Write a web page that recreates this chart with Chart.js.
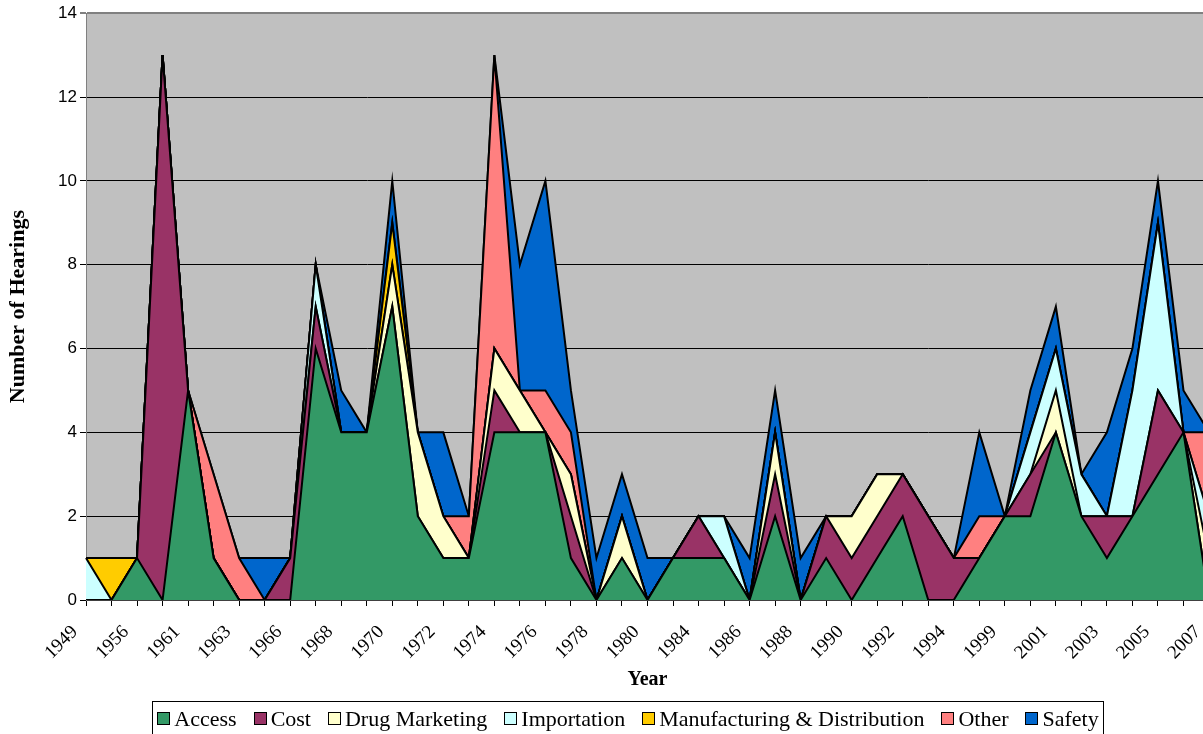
<!DOCTYPE html>
<html>
<head>
<meta charset="utf-8">
<script src="https://cdn.jsdelivr.net/npm/chart.js@4.4.1/dist/chart.umd.min.js"></script>
<style>
  html, body { margin: 0; padding: 0; background: #ffffff; overflow: hidden; }
  #wrap { position: relative; width: 1232px; height: 734px; }
  #c { display: block; }
</style>
</head>
<body>
<div id="wrap"><canvas id="c" width="1232" height="734" style="width:1232px;height:734px"></canvas></div>
<script>
// Years with at least one hearing (every other one is labelled on the axis)
const years = ['1949','1955','1956','1960','1961','1962','1963','1965','1966','1967',
               '1968','1969','1970','1971','1972','1973','1974','1975','1976','1977',
               '1978','1979','1980','1983','1984','1985','1986','1987','1988','1989',
               '1990','1991','1992','1993','1994','1998','1999','2000','2001','2002',
               '2003','2004','2005','2006','2007'];

// Number of hearings per topic and year
const access        = [0,0,1,0,5, 1,0,0,0,6, 4,4,7,2,1, 1,4,4,4,1, 0,1,0,1,1, 1,0,2,0,1, 0,1,2,0,0, 1,2,2,4,2, 1,2,3,4,0];
const cost          = [0,0,0,13,0, 0,0,0,1,1, 0,0,0,0,0, 0,1,0,0,1, 0,0,0,0,1, 0,0,1,0,1, 1,1,1,2,1, 0,0,1,0,0, 1,0,2,0,0];
const drugMarketing = [0,0,0,0,0, 0,0,0,0,0, 0,0,1,2,1, 0,1,1,0,1, 0,1,0,0,0, 0,0,1,0,0, 1,1,0,0,0, 0,0,0,1,0, 0,0,0,0,1];
const importation   = [1,0,0,0,0, 0,0,0,0,1, 0,0,0,0,0, 0,0,0,0,0, 0,0,0,0,0, 1,0,0,0,0, 0,0,0,0,0, 0,0,1,1,1, 0,3,4,0,1];
const manufacturing = [0,1,0,0,0, 0,0,0,0,0, 0,0,1,0,0, 0,0,0,0,0, 0,0,0,0,0, 0,0,0,0,0, 0,0,0,0,0, 0,0,0,0,0, 0,0,0,0,0];
const other         = [0,0,0,0,0, 2,1,0,0,0, 0,0,0,0,0, 1,7,0,1,1, 0,0,0,0,0, 0,0,0,0,0, 0,0,0,0,0, 1,0,0,0,0, 0,0,0,0,2];
const safety        = [0,0,0,0,0, 0,0,1,0,0, 1,0,1,0,2, 0,0,3,5,1, 1,1,1,0,0, 0,1,1,1,0, 0,0,0,0,0, 2,0,1,1,0, 2,1,1,1,0];

const yTicks = [0, 2, 4, 6, 8, 10, 12, 14];

const series = [
  { label: 'Access', data: access, color: '#339966' },
  { label: 'Cost', data: cost, color: '#993366' },
  { label: 'Drug Marketing', data: drugMarketing, color: '#FFFFCC' },
  { label: 'Importation', data: importation, color: '#CCFFFF' },
  { label: 'Manufacturing & Distribution', data: manufacturing, color: '#FFCC00' },
  { label: 'Other', data: other, color: '#FF8080' },
  { label: 'Safety', data: safety, color: '#0066CC' }
];

const SERIF = '"Liberation Serif", "Times New Roman", serif';
const SANS = '"Liberation Sans", Arial, sans-serif';

// Grey plot-area background
const plotBackground = {
  id: 'plotBackground',
  beforeDraw(chart) {
    const { ctx, chartArea: a } = chart;
    ctx.save();
    ctx.fillStyle = '#C0C0C0';
    ctx.fillRect(a.left, a.top, a.right - a.left, a.bottom - a.top);
    ctx.restore();
  }
};

// Boxed legend along the bottom
const boxedLegend = {
  id: 'boxedLegend',
  afterDraw(chart) {
    const ctx = chart.ctx;
    ctx.save();
    ctx.font = '22px ' + SERIF;
    const sw = 12, gapText = 5, gapItem = 17, padX = 5;
    const items = chart.data.datasets.map(ds => ({
      label: ds.label, color: ds.backgroundColor, w: ctx.measureText(ds.label).width
    }));
    const total = items.reduce((s, it) => s + sw + gapText + it.w, 0) + gapItem * (items.length - 1);
    const centerX = 628, top = 701, height = 38;
    const left = centerX - total / 2 - padX;
    ctx.fillStyle = '#ffffff';
    ctx.fillRect(left, top, total + 2 * padX, height);
    ctx.strokeStyle = '#000000';
    ctx.lineWidth = 1;
    ctx.strokeRect(Math.round(left) + 0.5, top + 0.5, Math.round(total + 2 * padX), height);
    let x = left + padX;
    const midY = 719;
    items.forEach(it => {
      ctx.fillStyle = it.color;
      ctx.fillRect(Math.round(x) + 0.5, midY - 6.5, sw, sw);
      ctx.strokeRect(Math.round(x) + 0.5, midY - 6.5, sw, sw);
      x += sw + gapText;
      ctx.fillStyle = '#000000';
      ctx.textBaseline = 'middle';
      ctx.textAlign = 'left';
      ctx.fillText(it.label, x, midY + 1);
      x += it.w + gapItem;
    });
    ctx.restore();
  }
};

new Chart(document.getElementById('c'), {
  type: 'line',
  data: {
    labels: years,
    datasets: series.map((s, i) => ({
      label: s.label,
      data: s.data,
      backgroundColor: s.color,
      borderColor: '#000000',
      borderWidth: 2,
      pointRadius: 0,
      pointHoverRadius: 0,
      tension: 0,
      fill: i === 0 ? 'origin' : '-1'
    }))
  },
  options: {
    responsive: false,
    maintainAspectRatio: false,
    animation: false,
    devicePixelRatio: 1,
    layout: { padding: { left: 0, right: 23, top: 13, bottom: 34 } },
    plugins: {
      legend: { display: false },
      tooltip: { enabled: false }
    },
    scales: {
      x: {
        type: 'category',
        offset: false,
        grid: { drawOnChartArea: false, drawTicks: true, tickLength: 6, color: '#000000' },
        border: { display: true, color: '#404040', width: 1 },
        ticks: {
          autoSkip: false,
          maxRotation: 45,
          minRotation: 45,
          padding: 15,
          labelOffset: -11,
          color: '#000000',
          font: { family: SERIF, size: 19 },
          callback: function (value, index) {
            return index % 2 === 0 ? this.getLabelForValue(value) : '';
          }
        },
        title: {
          display: true,
          text: 'Year',
          color: '#000000',
          font: { family: SERIF, size: 20, weight: 'bold' },
          padding: { top: 0, bottom: 8 }
        },
        afterFit(axis) {
          axis.height = 100;
          axis.paddingLeft = 0;
          axis.paddingRight = 0;
        }
      },
      y: {
        stacked: true,
        min: 0,
        max: 14,
        afterBuildTicks(axis) { axis.ticks = yTicks.map(v => ({ value: v })); },
        grid: {
          color: ctx => (ctx.tick && ctx.tick.value === 14 ? '#808080' : '#000000'),
          lineWidth: ctx => (ctx.tick && ctx.tick.value === 14 ? 2 : 1),
          tickLength: 6,
          drawTicks: true
        },
        border: { display: true, color: '#808080', width: 1 },
        ticks: {
          padding: 3,
          color: '#000000',
          font: { family: SANS, size: 17 }
        },
        title: {
          display: true,
          text: 'Number of Hearings',
          color: '#000000',
          font: { family: SERIF, size: 22, weight: 'bold' },
          padding: { top: 5, bottom: 0 }
        },
        afterFit(axis) { axis.width = 86; }
      }
    }
  },
  plugins: [plotBackground, boxedLegend]
});
</script>
</body>
</html>
